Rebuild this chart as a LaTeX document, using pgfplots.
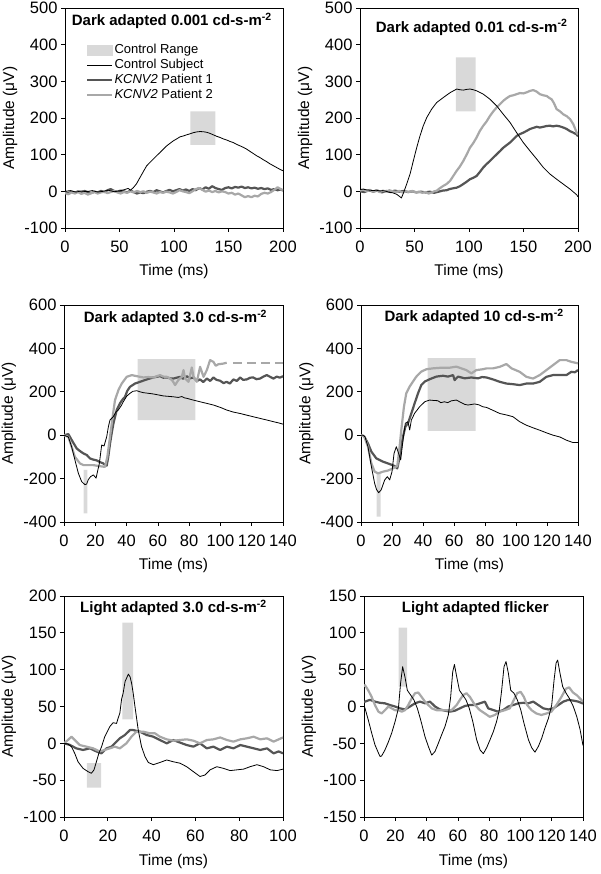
\documentclass[border=0pt]{standalone}
\usepackage{fontspec}
\setmainfont{Liberation Sans}
\usepackage{pgfplots}
\pgfplotsset{compat=1.18}
\definecolor{rangegray}{HTML}{D9D9D9}
\definecolor{pone}{HTML}{555555}
\definecolor{ptwo}{HTML}{A8A8A8}
\pgfplotsset{
  erg/.style={
    scale only axis, enlargelimits=false,
    axis line style={line width=0.7pt},
    tick pos=left, tick align=outside,
    major tick length=4pt,
    tick style={black, line width=0.7pt},
    ticklabel style={font=\fontsize{16.5}{16.5}\selectfont},
    xticklabel style={yshift=-5pt},
    /pgf/number format/assume math mode=true,
    scaled ticks=false,
    xlabel={Time (ms)}, ylabel={Amplitude (μV)},
    every axis x label/.style={at={(axis description cs:0.5,-0.2)}, anchor=center, font=\fontsize{15.5}{16}\selectfont},
    every axis y label/.style={at={(axis description cs:-0.252,0.5)}, anchor=center, rotate=90, font=\fontsize{15.5}{16}\selectfont},
    title style={font=\bfseries\fontsize{15}{15}\selectfont, anchor=base},
  },
  ctrl/.style={black, line width=0.8pt, line join=round, forget plot},
  p1/.style={pone, line width=2.2pt, line join=round, forget plot},
  p2/.style={ptwo, line width=2.2pt, line join=round, forget plot},
  rng/.style={fill=rangegray, draw=none, forget plot},
}
\begin{document}
\begin{tikzpicture}
\path[use as bounding box] (0,0) rectangle (600pt,874pt);

% ---------------- Panel 1 ----------------
\begin{axis}[erg, at={(65pt,646pt)}, anchor=south west, width=218pt, height=220pt,
  xmin=0, xmax=200, ymin=-100, ymax=500, xtick={0,50,...,200}, ytick={-100,0,...,500},
  title={Dark adapted 0.001 cd-s-m\textsuperscript{-2}},
  title style={at={(axis description cs:0.49,0.894)}},
  legend style={draw=none, fill=none, at={(axis description cs:0.096,0.842)}, anchor=north west,
    font=\fontsize{13}{15}\selectfont, row sep=0pt, inner sep=0pt,
    nodes={inner sep=1.2pt, text height=9.5pt, text depth=3pt}},
  legend cell align=left]
\addlegendimage{legend image code/.code={\fill[rangegray] (0pt,-5pt) rectangle (25pt,5pt);}}
\addlegendentry{Control Range}
\addlegendimage{legend image code/.code={\draw[black, line width=0.8pt] (0pt,0pt) -- (25pt,0pt);}}
\addlegendentry{Control Subject}
\addlegendimage{legend image code/.code={\draw[pone, line width=2.2pt] (0pt,0pt) -- (25pt,0pt);}}
\addlegendentry{\textit{KCNV2} Patient 1}
\addlegendimage{legend image code/.code={\draw[ptwo, line width=2.2pt] (0pt,0pt) -- (25pt,0pt);}}
\addlegendentry{\textit{KCNV2} Patient 2}
\addplot[rng] coordinates {(115,127) (138,127) (138,218) (115,218) (115,127)};
\addplot[p1] coordinates {(0,-2) (3,-5) (6,-1) (9,-4) (12,0) (15,-3) (18,1) (21,-2) (24,-5) (27,-1) (30,-3) (33,1) (36,-2) (39,3) (42,6) (45,1) (48,-1) (51,2) (54,0) (57,-3) (60,2) (63,-2) (66,-6) (69,-3) (72,-5) (75,-1) (78,1) (81,-2) (84,3) (87,0) (90,-3) (93,1) (96,4) (99,0) (102,3) (105,6) (108,2) (111,5) (114,1) (117,6) (120,3) (123,9) (126,5) (129,11) (132,7) (135,14) (138,9) (141,6) (144,4) (147,9) (150,11) (153,8) (156,12) (159,10) (162,13) (165,9) (168,11) (171,8) (174,10) (177,7) (180,9) (183,6) (186,8) (189,4) (192,6) (195,3) (198,5) (200,2)};
\addplot[p2] coordinates {(0,-5) (3,-8) (6,-3) (9,-6) (12,-2) (15,-7) (18,-4) (21,-9) (24,-5) (27,-2) (30,-6) (33,-3) (36,-1) (39,-5) (42,-2) (45,1) (48,-3) (51,-6) (54,-2) (57,-4) (60,0) (63,-3) (66,1) (69,-2) (72,0) (75,-4) (78,-1) (81,-3) (84,-6) (87,-2) (90,-4) (93,-1) (96,-3) (99,-6) (102,-2) (105,3) (108,0) (111,-2) (114,-5) (117,0) (120,6) (123,9) (126,4) (129,-1) (132,2) (135,-2) (138,1) (141,-3) (144,0) (147,-2) (150,-6) (153,-4) (156,-9) (159,-6) (162,-11) (165,-16) (168,-13) (171,-16) (174,-12) (177,-14) (180,-7) (183,-4) (186,-6) (189,-2) (192,4) (195,11) (198,6) (200,3)};
\addplot[ctrl] coordinates {(0,0) (5,2) (10,-2) (15,1) (20,-1) (25,2) (30,-2) (35,0) (40,3) (45,-1) (50,1) (55,5) (58,8) (60,3) (62.7,10) (65.5,20) (68.8,37.6) (71.9,54) (74.9,69.5) (78,79) (81,87.8) (84,97) (87.2,105.8) (90.2,115) (93.3,124) (96.4,131) (99.4,137.7) (102.5,143) (105.5,148.6) (108.6,151) (111.6,154) (114.7,157) (117.7,160) (120.8,162) (123.9,163) (127,162.5) (130,161) (133,158) (136.1,154) (139.2,150) (142.2,147) (145.2,143) (148.3,140) (151.4,136) (154.4,133) (157.5,128) (160.6,124) (163.6,120) (166.7,115) (169.7,109) (172.8,103) (175.8,97) (178.9,92) (182,86) (185,81) (188,75) (191.1,70) (194.1,65) (197.2,60) (200,56)};
\end{axis}

% ---------------- Panel 2 ----------------
\begin{axis}[erg, at={(360pt,646pt)}, anchor=south west, width=218pt, height=220pt,
  xmin=0, xmax=200, ymin=-100, ymax=500, xtick={0,50,...,200}, ytick={-100,0,...,500},
  title={Dark adapted 0.01 cd-s-m\textsuperscript{-2}},
  title style={at={(axis description cs:0.512,0.863)}}]
\addplot[rng] coordinates {(88,218) (106,218) (106,365) (88,365) (88,218)};
\addplot[p1] coordinates {(0,0) (4,-2) (8,3) (12,-1) (16,2) (20,-3) (24,1) (28,-2) (32,2) (36,-1) (40,1) (44,-2) (48,0) (52,-3) (56,-1) (60,-3) (64,-1) (68,-4) (72,-1) (76,2) (79.5,3) (82,6) (85,8) (88.7,10) (91.7,14) (94.8,20) (97.8,26) (100.9,33) (104,37) (107,42) (110,53) (113.1,65) (116,74) (119.3,83) (122.3,92) (125.4,101) (128.5,110) (131.5,119) (134.5,126) (137.6,133) (140.7,142) (143.7,151) (146.7,156) (149.8,160) (153,165) (156,170) (159,173) (162.1,176) (165,174) (168.2,176) (171,178) (174.3,179) (177,177) (180.4,179) (183.5,177) (186.5,174) (189.6,170) (192.7,164) (195.7,160) (198.8,155) (200,150)};
\addplot[p2] coordinates {(0,2) (3,5) (6,0) (9,4) (12,-1) (15,3) (18,-2) (21,2) (24,-1) (27,3) (30,0) (33,-2) (36,1) (39,-3) (42,0) (45,-2) (48,1) (51,-3) (54,-1) (57,-4) (60,-2) (63,-6) (66,-3) (68,0) (70.3,1.4) (73,8) (76.5,15) (79.5,20) (82.6,28.6) (85.6,42) (88.7,56) (91.7,68) (94.8,83) (97.8,100) (100.9,119) (104,132) (107,147) (110,165) (113.1,179) (116,190) (119.3,206) (122.3,218) (125.4,229) (128.5,238) (131.5,247) (134.5,254) (137.6,260) (140.7,262) (143.7,265) (146.7,268) (149.8,267) (152.9,270) (156,274) (159,276) (162,272) (165,265) (168,262) (171.3,260) (173.5,255) (175.8,251) (178,240) (180.4,224) (183.5,218) (186.5,210) (189.6,205) (192.7,197) (195.7,183) (198.8,160) (200,155)};
\addplot[ctrl] coordinates {(0,5) (3,6) (6,4) (9.2,3) (12,2) (15,3) (18.3,1) (21,2) (24,0) (27.5,-3) (30,-4) (33.6,-8) (36.7,-15) (38,-18) (39.8,-5) (42.8,19.6) (45.9,47) (48.9,83) (52,119) (55,151) (58.1,179) (61.2,201) (65.7,224) (70.3,242) (76.5,256) (82.6,269) (88.7,279) (91.7,277) (94.8,276) (97.8,278) (100.9,279) (104,277) (107,274) (113.1,265) (119.3,251) (125.4,233) (131.5,210) (137.6,188) (143.7,160) (149.8,133) (156,110) (162.1,88) (168.2,65) (174.3,47) (180.4,33) (186.5,19.6) (192.7,6) (198.8,-9.5) (200,-15)};
\end{axis}

% ---------------- Panel 3 ----------------
\begin{axis}[erg, at={(64pt,352pt)}, anchor=south west, width=219pt, height=217pt,
  xmin=0, xmax=140, ymin=-400, ymax=600, xtick={0,20,...,140}, ytick={-400,-200,...,600},
  title={Dark adapted 3.0 cd-s-m\textsuperscript{-2}},
  title style={at={(axis description cs:0.509,0.891)}}]
\addplot[rng] coordinates {(47,70) (84,70) (84,350) (47,350) (47,70)};
\addplot[rng] coordinates {(12.5,-360) (15,-360) (15,-160) (12.5,-160) (12.5,-360)};
\addplot[p1] coordinates {(0,0) (2.8,5) (4.9,-22) (8.1,-61) (10,-72) (12.4,-84) (14.5,-91) (16.6,-107) (18.5,-112) (20.9,-116) (23,-124) (25.1,-130) (26.2,-138) (27.3,-140) (28.3,-100) (29.4,-40) (30.5,10) (31.6,54) (33.7,116) (35.8,147) (37.5,165) (39,177) (40.5,205) (42.2,223) (45.4,238) (48.6,246) (52.9,257) (57.1,266) (61.4,272) (63.5,265) (65.7,266) (68,262) (70,261) (72,265) (74.2,269) (76,260) (78.5,272) (80.5,262) (82.8,266) (85,250) (87,257) (89,245) (91.3,261) (93.5,250) (95.5,266) (97.5,255) (99.8,251) (102,240) (104,246) (106,238) (108.3,257) (110.5,250) (112.6,266) (114.5,255) (116.8,257) (119,265) (121,266) (123,258) (125.3,261) (127.5,270) (129.6,277) (131.5,270) (133.9,261) (136,270) (138,265) (140,272)};
\addplot[p2] coordinates {(0,0) (2.8,-8) (4.9,-54) (7,-100) (10.2,-130) (12.5,-138) (14.5,-138) (18.8,-138) (23,-143) (26.2,-146) (27.7,-100) (29.4,-8) (31.1,85) (32.6,162) (34.8,208) (36.9,238) (40.1,269) (43.3,277) (46.5,272) (50.7,266) (54,268) (57.1,266) (61.4,277) (63.5,270) (65.7,269) (67.8,261) (69.5,250) (71,231) (73.1,254) (75.3,269) (76.4,300) (77.4,261) (79.6,246) (81.7,312) (82.8,269) (84.9,246) (87,315) (89.2,269) (91.3,300) (93.4,346) (95.5,338) (97,320) (98.7,327) (101.9,330) (104,334)};
\addplot[p2, dash pattern=on 9pt off 5pt] coordinates {(108,334) (140,334)};
\addplot[ctrl] coordinates {(0,0) (2.8,-8) (4.9,-54) (7,-115) (9.2,-176) (11.3,-214) (13.4,-228) (14.5,-225) (15.5,-205) (17,-191) (18.8,-183) (20.5,-198) (21.5,-165) (22.6,-130) (24.1,-45) (25.6,-50) (27.3,-7) (28.4,40) (29.4,70) (31.5,85) (33,105) (34.7,116) (36.5,135) (37.9,154) (40.1,180) (42.2,193) (44,202) (46.5,205) (48.5,200) (50.7,196) (54,193) (57.1,190) (60,186) (63.5,181) (66.7,179) (69.9,177) (73,174) (75.3,178) (77,172) (78.5,170) (82,163) (87,154) (91,147) (95.5,139) (100,128) (104,116) (108,107) (112.6,100) (117,92) (121,85) (125,78) (129.6,70) (134,62) (137,57) (140,51)};
\end{axis}

% ---------------- Panel 4 ----------------
\begin{axis}[erg, at={(361pt,352pt)}, anchor=south west, width=217pt, height=217pt,
  xmin=0, xmax=140, ymin=-400, ymax=600, xtick={0,20,...,140}, ytick={-400,-200,...,600},
  title={Dark adapted 10 cd-s-m\textsuperscript{-2}},
  title style={at={(axis description cs:0.521,0.897)}}]
\addplot[rng] coordinates {(43,20) (74,20) (74,355) (43,355) (43,20)};
\addplot[rng] coordinates {(10,-375) (12.7,-375) (12.7,-170) (10,-170) (10,-375)};
\addplot[p1] coordinates {(0,0) (2,-5) (4.5,-38) (6.7,-76) (9.9,-107) (14.2,-122) (18.5,-133) (21.7,-142) (23.4,-153) (24.3,-122) (25.6,-68) (27.1,-7) (28.6,39) (30.3,55) (32.5,101) (34.6,147) (36.8,193) (38.9,231) (41.1,247) (44.3,258) (48.6,270) (52.9,274) (56.1,270) (59.4,277) (60.4,254) (62.6,270) (66.9,262) (71.2,266) (75.5,262) (78,268) (81,266) (85.2,257) (89.5,246) (93.8,238) (98.1,235) (102.4,231) (106.7,238) (111,238) (115.3,246) (119.6,269) (123.9,277) (128.2,277) (132.5,277) (135.7,292) (138,290) (140,300)};
\addplot[p2] coordinates {(0,0) (2,-5) (4.5,-53) (6.7,-130) (8.8,-168) (11,-176) (14.2,-168) (17.4,-163) (20.6,-153) (23.4,-142) (24.9,-53) (26,24) (27.7,131) (29.2,193) (31.4,224) (33.5,247) (35.7,270) (38.9,293) (42.2,304) (46.4,308) (51.8,311) (57.2,311) (61.5,316) (64.7,308) (67.9,300) (71.2,285) (74.4,300) (78.7,304) (81,308) (85.2,308) (89.5,315) (93.8,328) (97.1,308) (102.4,292) (106.7,269) (111,261) (115.3,277) (119.6,300) (123.9,323) (128.2,346) (132.5,346) (135.7,338) (140,331)};
\addplot[ctrl] coordinates {(0,0) (1.3,0) (2.6,-8) (4.5,-53) (6.7,-145) (8.8,-222) (10,-250) (11.4,-265) (13,-252) (15.3,-206) (17,-191) (18.5,-206) (20,-168) (21.3,-84) (22.8,-53) (23.9,-76) (25.6,-114) (27.1,-22) (28.6,55) (30.3,62) (31.4,24) (32.5,70) (34.6,101) (37.8,131) (41.1,154) (44.3,162) (47,160) (49.5,159) (51.5,150) (53.8,154) (56,150) (58.1,158) (61.5,162) (64.7,150) (67,142) (69,139) (73.3,144) (76,140) (78.6,131) (81,128) (85,115) (89.5,100) (94,93) (98.1,85) (102.4,62) (106.7,46) (111,34) (115.3,23) (119.6,11) (123.9,0) (128.2,-8) (132.5,-23) (136.8,-34) (140,-34)};
\end{axis}

% ---------------- Panel 5 ----------------
\begin{axis}[erg, at={(64pt,57pt)}, anchor=south west, width=219pt, height=221pt,
  xmin=0, xmax=100, ymin=-100, ymax=200, xtick={0,20,...,100}, ytick={-100,-50,...,200},
  title={Light adapted 3.0 cd-s-m\textsuperscript{-2}},
  title style={at={(axis description cs:0.50,0.897)}}]
\addplot[rng] coordinates {(26.6,32.6) (31.6,32.6) (31.6,164) (26.6,164) (26.6,32.6)};
\addplot[rng] coordinates {(10.5,-60) (17,-60) (17,-27) (10.5,-27) (10.5,-60)};
\addplot[p1] coordinates {(0,0) (2.6,-2) (5.6,-6.8) (8.7,-9) (11.8,-6.8) (14.8,-11) (17.1,-13.6) (19.4,-6.8) (21.7,-4.5) (23.2,0) (25.5,6.8) (27.8,11.3) (30.1,18) (31.6,18) (34.7,15.8) (37.7,11.3) (40.8,9) (43.8,4.5) (46.9,0) (49.9,4.5) (53,1) (56,-2.3) (59.1,-4.5) (62.1,0) (65.2,-6.8) (68.2,-4.5) (71.3,-9) (74.4,-4.5) (77.4,-6.8) (80.5,-2.3) (83.5,-4.5) (86.6,-6.8) (89.6,-9) (92.7,-6.8) (95.7,-13.6) (98,-11) (100,-13.6)};
\addplot[p2] coordinates {(0,0) (1.8,4.5) (3.4,9) (4.9,4.5) (7.2,-2.3) (10.2,-4.5) (13.3,-6.8) (16.3,-11) (18.6,-9) (20.9,-6.8) (23.2,-4.5) (25.5,-6.8) (28.5,0) (30.8,9) (33.1,15.8) (36.2,15.8) (39.2,13.6) (41.5,13.6) (43.8,9) (46.9,5.4) (49.9,3.6) (53,4.5) (56,5.4) (59.1,3.6) (62.1,0) (65.2,4.5) (68.2,5.4) (71.3,8) (74.4,4.5) (77.4,2.3) (80.5,5.4) (83.5,6.8) (86.6,9) (89.6,5.4) (92.7,6.8) (95.7,2.3) (100,8)};
\addplot[ctrl] coordinates {(0,0) (1.8,-1) (3.4,-4.5) (4.9,-13.6) (6.4,-25) (8.7,-34) (11,-38.5) (12.5,-40.7) (13.7,-36) (14.8,-25) (15.9,-13.6) (17.1,-5) (18.6,9) (20.9,22.6) (22.4,28) (24,27) (24.8,35) (25.5,41) (26.3,60) (27,68) (27.9,84) (28.5,88) (29.4,94) (30.2,90) (30.9,81) (31.6,68) (32.4,50) (33.9,18) (35.4,-4.5) (37,-18) (38.5,-26) (40.8,-29) (43.8,-26) (46.9,-22.6) (49.9,-25) (53,-27) (56,-31.7) (59.1,-38.5) (62.1,-45) (64.4,-43) (66.7,-36) (69.8,-31.7) (72.8,-34) (75.9,-37) (78.9,-36) (82,-35) (85,-31.7) (88.1,-29) (91.1,-31.7) (94.2,-36) (97.3,-37) (100,-35)};
\end{axis}

% ---------------- Panel 6 ----------------
\begin{axis}[erg, at={(364pt,57pt)}, anchor=south west, width=219pt, height=221pt,
  xmin=0, xmax=140, ymin=-150, ymax=150, xtick={0,20,...,140}, ytick={-150,-100,...,150},
  title={Light adapted flicker},
  title style={at={(axis description cs:0.508,0.9)}}]
\addplot[rng] coordinates {(22.2,27) (27.6,27) (27.6,107) (22.2,107) (22.2,27)};
\addplot[p1] coordinates {(0,6) (0.6,6.6) (3.8,9) (7,6.6) (10.2,5) (13.4,4.3) (16.6,2) (19.8,0) (23,-2.5) (26.2,-4) (29.4,0) (32.6,4.3) (35.8,6.6) (39,4.3) (42.2,6.6) (45.4,0) (48.6,-4) (51.8,-5.7) (55,-7) (58.1,-5.7) (61.3,-2.5) (64.5,0.7) (67.7,2) (70.9,2) (74.1,4.3) (77.3,6.6) (79.4,-2.5) (82.6,-4.8) (85.8,-7) (89,-4.8) (92.2,0) (95.4,2) (98.6,4.3) (101.8,5) (105,4.3) (108.2,6.6) (111.4,2) (114.6,-2.5) (117.8,-4) (121,-2.5) (124.2,2) (127.4,6.6) (130.6,9) (133.8,8) (137,6.6) (140,4)};
\addplot[p2] coordinates {(0,27) (0.6,29) (2.7,22) (4.9,13) (7,2) (9.2,-7) (11.3,-9.5) (13.4,-5) (15.6,0) (17.7,-2.5) (19.8,-5) (22,-5) (24.1,-7) (26.2,-5) (28.3,2) (30.5,11) (32.6,18) (34.7,19) (36.8,13) (39,6.6) (41.1,2) (43.3,-2.5) (46.4,-5) (49.6,-5) (52.8,-5) (56,-5) (59.2,2) (61.3,9) (63.4,15.6) (65.5,18) (67.7,13) (70.9,2) (74.1,-5) (77.3,-9.5) (80.4,-14) (83.6,-11.5) (86.8,-7) (90,-5) (93.2,-2.5) (95.8,9) (97.9,18) (100.1,20) (102.2,13) (104.3,2) (107.1,-5) (110.2,-9.5) (113.4,-11.5) (116.6,-9.5) (119.8,-7) (123,2) (126.2,13) (129,24) (131.1,26) (133.6,19) (136.2,15) (140,6.6)};
\addplot[ctrl] coordinates {(0,0) (0.6,-2) (2.7,-18) (4.9,-36) (7,-52) (9.2,-63) (10.3,-68) (11.3,-67) (13.4,-59) (15.6,-48) (17.7,-36) (19.8,-21) (22,-2.5) (23.4,32) (24.7,54) (26.2,40) (27.7,22) (29.8,15.6) (31.9,9) (34.1,-2.5) (36.2,-18) (39,-41) (41.1,-54) (43.3,-66) (45.4,-61) (47.5,-50) (49.7,-38) (51.8,-27) (53.9,-11.5) (55.4,13) (56.7,47) (57.8,57) (59.3,40) (61,22) (63.1,15.6) (65.2,9) (67.3,-2.5) (69.5,-20) (72,-45) (74.2,-59) (76.3,-64) (78.4,-56) (80.6,-45) (82.7,-34) (84.8,-20) (86.5,-4.5) (88,22) (89.5,54) (90.8,61) (92.3,45) (93.8,22) (95.9,18) (98,9) (100.2,-4.5) (102.3,-23) (105.1,-45) (107.2,-56) (109.3,-62) (111.5,-54) (113.6,-43) (115.7,-29) (117.9,-16) (120,2) (121.5,36) (122.8,59) (123.8,63) (125.3,45) (127,27) (129.2,18) (131.3,11) (133.8,0) (136,-13.6) (138.1,-31) (140,-53)};
\end{axis}
\end{tikzpicture}
\end{document}
